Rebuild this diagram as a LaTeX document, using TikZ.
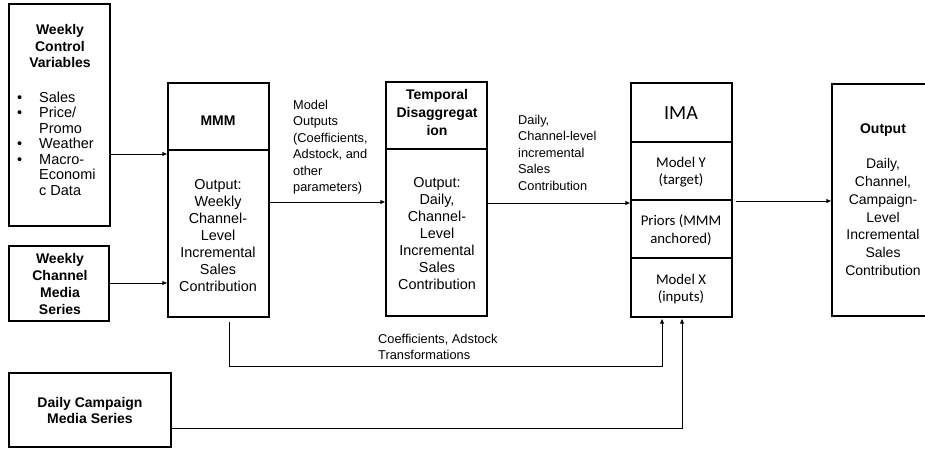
\documentclass[tikz,border=0pt]{standalone}
\usepackage{fontspec}
\setmainfont{Liberation Sans}
\newfontfamily\imafont{Carlito}
\usetikzlibrary{arrows.meta}
\begin{document}
\begin{tikzpicture}[x=1pt,y=-1pt,
  box/.style={draw, line width=1.1pt, inner sep=0pt},
  arr/.style={line width=0.9pt, -{Latex[length=5pt,width=4.5pt]}},
  divider/.style={line width=1.1pt},
  txt/.style={align=center, font=\fontsize{14.4}{17}\selectfont, inner sep=0pt},
  ttl/.style={align=center, font=\bfseries\fontsize{14}{16.8}\selectfont, inner sep=0pt},
  imatxt/.style={align=center, font=\imafont\fontsize{14.8}{17.5}\selectfont, inner sep=0pt},
  lbl/.style={align=left, font=\fontsize{12.8}{16.4}\selectfont, inner sep=0pt, anchor=north west},
  ]
\useasboundingbox (0,0) rectangle (925,451);

% boxes
\node[box, minimum width=101pt, minimum height=222pt] (wcv) at (59.5,115) {};
\node[box, minimum width=100pt, minimum height=75pt] (wcm) at (59,283.5) {};
\node[box, minimum width=162pt, minimum height=74pt] (dcm) at (90,410) {};
\node[box, minimum width=101pt, minimum height=234pt] (mmm) at (218.5,200) {};
\node[box, minimum width=101pt, minimum height=234pt] (td) at (436.5,199) {};
\node[box, minimum width=101pt, minimum height=234pt] (ima) at (681.5,200) {};
\node[box, minimum width=104pt, minimum height=232pt] (out) at (884,200) {};

% dividers
\coordinate (mmmdiv) at (0,150);
\coordinate (tddiv) at (0,149);
\coordinate (imadiv1) at (0,142);
\coordinate (imadiv2) at (0,200);
\coordinate (imadiv3) at (0,258);
\draw[divider] (mmm.west |- mmmdiv) -- (mmm.east |- mmmdiv);
\draw[divider] (td.west |- tddiv) -- (td.east |- tddiv);
\draw[divider] (ima.west |- imadiv1) -- (ima.east |- imadiv1);
\draw[divider] (ima.west |- imadiv2) -- (ima.east |- imadiv2);
\draw[divider] (ima.west |- imadiv3) -- (ima.east |- imadiv3);

% texts
\node[ttl, font=\bfseries\fontsize{14}{16.7}\selectfont] (wcvt) at (60,46) {Weekly\\Control\\Variables};
\node[inner sep=0pt, anchor=west, font=\fontsize{14.5}{15.5}\selectfont] (wcvl) at (17,145.5)
  {\begin{tabular}{@{}p{22pt}@{}l@{}}
   \textbullet & Sales\\
   \textbullet & Price/\\
               & Promo\\
   \textbullet & Weather\\
   \textbullet & Macro-\\
               & Economi\\
               & c Data
   \end{tabular}};
\node[ttl, font=\bfseries\fontsize{14}{17.3}\selectfont] (wcmt) at (60,284) {Weekly\\Channel\\Media\\Series};
\node[ttl, font=\bfseries\fontsize{14}{16}\selectfont] (dcmt) at (90,410) {Daily Campaign\\Media Series};

\node[ttl] (mmmt) at (218,121) {MMM};
\node[txt] (mmmb) at (218,236) {Output:\\Weekly\\Channel-\\Level\\Incremental\\Sales\\Contribution};

\node[ttl, font=\bfseries\fontsize{14}{18}\selectfont] (tdt) at (437,112) {Temporal\\Disaggregat\\ion};
\node[txt] (tdb) at (437,234) {Output:\\Daily,\\Channel-\\Level\\Incremental\\Sales\\Contribution};

\node[imatxt, font=\imafont\fontsize{20}{22}\selectfont] (imat) at (681,113) {IMA};
\node[imatxt] (imay) at (681,172) {Model Y\\(target)};
\node[imatxt] (imap) at (681,230) {Priors (MMM\\anchored)};
\node[imatxt] (imax) at (681,289) {Model X\\(inputs)};

\node[ttl] (outt) at (883,130) {Output};
\node[txt, font=\fontsize{14}{17.8}\selectfont] (outb) at (883,217) {Daily,\\Channel,\\Campaign-\\Level\\Incremental\\Sales\\Contribution};

% labels
\node[lbl] (l1) at (293,100) {Model\\Outputs\\(Coefficients,\\Adstock, and\\other\\parameters)};
\node[lbl] (l2) at (518,115) {Daily,\\Channel-level\\incremental\\Sales\\Contribution};
\node[lbl] (l3) at (378,334) {Coefficients, Adstock\\Transformations};

% connectors
\coordinate (y1) at (0,154);
\coordinate (y2) at (0,283);
\coordinate (y3) at (0,202);
\coordinate (y4) at (0,203);
\coordinate (y5) at (0,201);
\draw[arr] (wcv.east |- y1) -- (mmm.west |- y1);
\draw[arr] (wcm.east |- y2) -- (mmm.west |- y2);
\draw[arr] (mmm.east |- y3) -- (td.west |- y3);
\draw[arr] (td.east |- y4) -- (ima.west |- y4);
\draw[arr] ([xshift=3pt]ima.east |- y5) -- (out.west |- y5);

\coordinate (cs) at (229,322);
\coordinate (ct) at (662,318.5);
\coordinate (cy) at (0,366);
\draw[arr] (cs) |- (ct |- cy) -- (ct);

\coordinate (dt) at (682,318.5);
\coordinate (dy) at (0,428);
\draw[arr] (dcm.east |- dy) -- (dt |- dy) -- (dt);
\end{tikzpicture}
\end{document}
